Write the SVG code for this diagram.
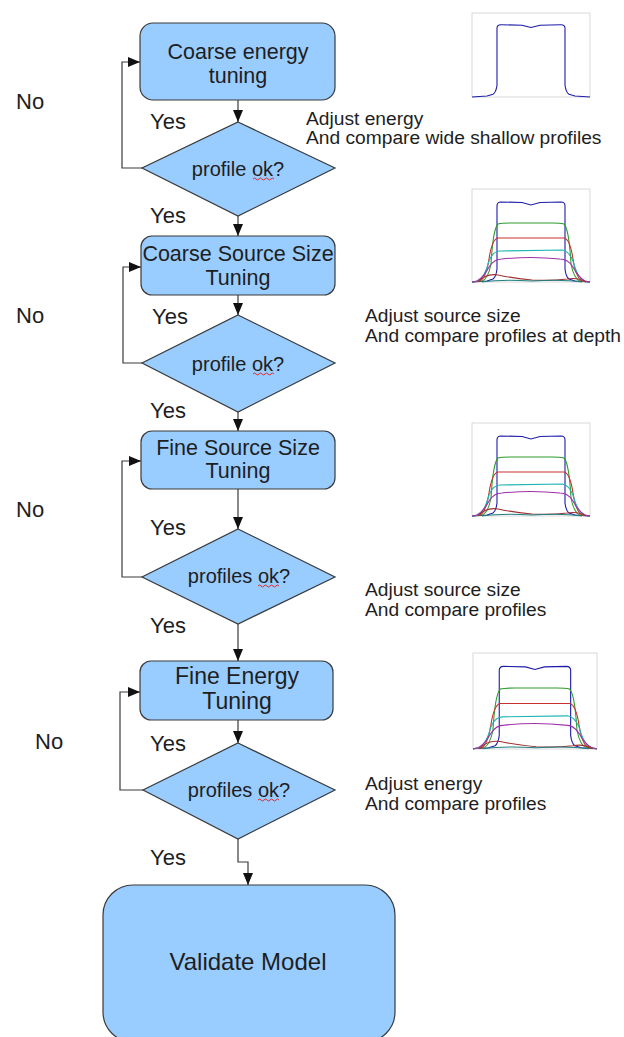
<svg xmlns="http://www.w3.org/2000/svg" width="624" height="1037" viewBox="0 0 624 1037">
<defs>
<marker id="ah" markerUnits="userSpaceOnUse" markerWidth="13" markerHeight="11" refX="12" refY="5" orient="auto">
<path d="M0,0 L12,5 L0,10 z" fill="#111"/>
</marker>
<style>
.box{fill:#99ccff;stroke:#3a3a3a;stroke-width:1.2}
.t{font-family:"Liberation Sans",Arial,sans-serif;fill:#1e1e1e}
.bt{font-size:21.5px;text-anchor:middle}
.dt{font-size:20px;text-anchor:middle}
.lbl{font-size:22px}
.note{font-size:19.2px}
.con{fill:none;stroke:#3a3a3a;stroke-width:1.2}
.sq{fill:none;stroke:#e02828;stroke-width:1}
.frame{fill:#fff;stroke:#c8c8c8;stroke-width:0.7}
.cv{fill:none;stroke-width:1.1;vector-effect:non-scaling-stroke}
</style>
<g id="plotCurves">
<path class="cv" stroke="#1c1ca8" d="M0,93 L15,92 L21,90 Q24,88 25,80 L25,17 Q25,13 29,13 L50,13.5 L59,16 L68,13.5 L89,13 Q93,13 93,17 L93,80 Q94,88 97,90 L103,92 L118,93"/>
<path class="cv" stroke="#2c9c2c" d="M0,93 L10,92 Q16,90 19,75 Q21,40 26,35 Q30,34 40,34 L80,34 Q88,34 92,35 Q97,40 99,75 Q102,90 108,92 L118,93"/>
<path class="cv" stroke="#c83030" d="M0,93 L8,92 Q14,89 17,70 Q20,50 26,49 L92,49 Q98,50 101,70 Q104,89 110,92 L118,93"/>
<path class="cv" stroke="#20b4b4" d="M0,93 L6,92 Q13,88 17,72 Q21,62 28,62 L90,61 Q97,62 101,72 Q105,88 112,92 L118,93"/>
<path class="cv" stroke="#a030a8" d="M0,93 L5,92 Q12,88 17,78 Q22,70 30,70 Q59,67 88,70 Q96,70 101,78 Q106,88 113,92 L118,93"/>
<path class="cv" stroke="#a03030" d="M6,93 Q14,84 26,86 Q40,89 60,91 Q80,92 95,90 Q106,88 114,93"/>
<path class="cv" stroke="#208080" d="M10,93 Q30,90 60,92 Q90,90 110,93"/>
</g>
</defs>
<rect width="624" height="1037" fill="#fff"/>

<g id="plot1">
<rect class="frame" x="472" y="13" width="118" height="84"/>
<g transform="translate(472,13) scale(1,0.903)">
<path class="cv" stroke="#1c1ca8" d="M0,93 L15,92 L21,90 Q24,88 25,80 L25,17 Q25,13 29,13 L50,13.5 L59,16 L68,13.5 L89,13 Q93,13 93,17 L93,80 Q94,88 97,90 L103,92 L118,93"/>
</g>
</g>
<g id="plot2">
<rect class="frame" x="472" y="189" width="118" height="93"/>
<use href="#plotCurves" transform="translate(472,189)"/>
</g>
<g id="plot3">
<rect class="frame" x="472" y="423" width="118" height="93"/>
<use href="#plotCurves" transform="translate(472,423)"/>
</g>
<g id="plot4">
<rect class="frame" x="473" y="653" width="124" height="96"/>
<use href="#plotCurves" transform="translate(473,653) scale(1.05,1.03)"/>
</g>

<g id="connectors">
<path class="con" marker-end="url(#ah)" d="M238,100 L238,122"/>
<path class="con" marker-end="url(#ah)" d="M238,216 L238,236"/>
<path class="con" marker-end="url(#ah)" d="M238,295 L238,315"/>
<path class="con" marker-end="url(#ah)" d="M238,412 L238,431"/>
<path class="con" marker-end="url(#ah)" d="M238,489 L238,529"/>
<path class="con" marker-end="url(#ah)" d="M238,624 L238,661"/>
<path class="con" marker-end="url(#ah)" d="M238,720 L238,743"/>
<path class="con" marker-end="url(#ah)" d="M238,839 L238,862 L248,862 L248,885"/>
<path class="con" marker-end="url(#ah)" d="M142,168 L122,168 L122,62 L140,62"/>
<path class="con" marker-end="url(#ah)" d="M142,363 L123,363 L123,267 L141,267"/>
<path class="con" marker-end="url(#ah)" d="M142,577 L122,577 L122,461 L141,461"/>
<path class="con" marker-end="url(#ah)" d="M143,790 L120,790 L120,692 L140,692"/>
</g>

<g id="box1">
<rect class="box" x="140" y="23" width="195" height="77" rx="13"/>
<text class="t bt" x="238" y="59">Coarse energy</text>
<text class="t bt" x="238" y="83">tuning</text>
</g>
<g id="dec1">
<path class="box" d="M238,122 L335,168 L238,216 L142,168 z"/>
<text class="t dt" x="238" y="176">profile ok?</text>
<path class="sq" d="M253,179 q1.5,-2 3,0 t3,0 t3,0 t3,0 t3,0 t3,0 t3,0"/>
</g>
<g id="box2">
<rect class="box" x="141" y="236" width="194" height="59" rx="11"/>
<text class="t bt" x="238" y="261">Coarse Source Size</text>
<text class="t bt" x="238" y="285">Tuning</text>
</g>
<g id="dec2">
<path class="box" d="M238,315 L335,363 L238,412 L142,363 z"/>
<text class="t dt" x="238" y="371">profile ok?</text>
<path class="sq" d="M253,374 q1.5,-2 3,0 t3,0 t3,0 t3,0 t3,0 t3,0 t3,0"/>
</g>
<g id="box3">
<rect class="box" x="141" y="431" width="194" height="58" rx="11"/>
<text class="t bt" x="238" y="455">Fine Source Size</text>
<text class="t bt" x="238" y="478">Tuning</text>
</g>
<g id="dec3">
<path class="box" d="M238,529 L335,577 L238,624 L142,577 z"/>
<text class="t dt" x="239" y="583">profiles ok?</text>
<path class="sq" d="M258,586 q1.5,-2 3,0 t3,0 t3,0 t3,0 t3,0 t3,0 t3,0"/>
</g>
<g id="box4">
<rect class="box" x="140" y="661" width="193" height="59" rx="11"/>
<text class="t" x="237" y="684" font-size="23" text-anchor="middle">Fine Energy</text>
<text class="t" x="237" y="709" font-size="23" text-anchor="middle">Tuning</text>
</g>
<g id="dec4">
<path class="box" d="M238,743 L335,790 L238,839 L143,790 z"/>
<text class="t dt" x="239" y="797">profiles ok?</text>
<path class="sq" d="M258,800 q1.5,-2 3,0 t3,0 t3,0 t3,0 t3,0 t3,0 t3,0"/>
</g>
<g id="box5">
<rect class="box" x="103" y="885" width="292" height="157" rx="30"/>
<text class="t" x="248" y="970" font-size="24" text-anchor="middle">Validate Model</text>
</g>

<g id="labels">
<text class="t lbl" x="16" y="109">No</text>
<text class="t lbl" x="16" y="323">No</text>
<text class="t lbl" x="16" y="517">No</text>
<text class="t lbl" x="35" y="749">No</text>
<text class="t lbl" x="150" y="129">Yes</text>
<text class="t lbl" x="150" y="223">Yes</text>
<text class="t lbl" x="152" y="324">Yes</text>
<text class="t lbl" x="150" y="418">Yes</text>
<text class="t lbl" x="150" y="535">Yes</text>
<text class="t lbl" x="150" y="633">Yes</text>
<text class="t lbl" x="150" y="751">Yes</text>
<text class="t lbl" x="150" y="865">Yes</text>
<text class="t note" x="306" y="125">Adjust energy</text>
<text class="t note" x="306" y="144">And compare wide shallow profiles</text>
<text class="t note" x="365" y="322">Adjust source size</text>
<text class="t note" x="365" y="342">And compare profiles at depth</text>
<text class="t note" x="365" y="596">Adjust source size</text>
<text class="t note" x="365" y="616">And compare profiles</text>
<text class="t note" x="365" y="790">Adjust energy</text>
<text class="t note" x="365" y="810">And compare profiles</text>
</g>
</svg>
